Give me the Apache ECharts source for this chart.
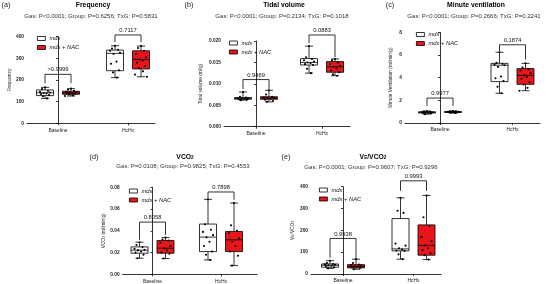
<!DOCTYPE html>
<html>
<head>
<meta charset="utf-8">
<script src="https://cdn.jsdelivr.net/npm/echarts@6/dist/echarts.min.js"></script>
<style>
html, body { margin: 0; padding: 0; background: #fff; }
#chart { width: 546px; height: 284px; }
</style>
</head>
<body>
<div id="chart"></div>
<script>
const categories = ['Baseline', 'HcHx'];

// box stats per category: [min, Q1, median, Q3, max]
const freqMdx = [[115, 128, 141, 154, 166], [211, 243, 323, 338, 358]];
const freqNac = [[126, 134, 140, 148, 160], [215, 251, 295, 335, 357]];
const freqMdxPts = [[166, 158, 150, 145, 142, 140, 138, 135, 130, 125, 115], [358, 345, 340, 335, 326, 320, 285, 275, 245, 235, 211]];
const freqNacPts = [[160, 155, 150, 146, 143, 141, 140, 138, 136, 133, 129, 126], [357, 348, 335, 320, 305, 295, 290, 280, 265, 255, 240, 225, 215]];
const freqBrackets = [[0, 185, 185, 226], [1, 375, 375, 408]];
const freqP = ['>0.9999', '0.7117'];

const tidalMdx = [[0.0062, 0.0064, 0.0066, 0.0068, 0.0081], [0.0125, 0.0144, 0.0150, 0.0159, 0.0188]];
const tidalNac = [[0.0058, 0.0064, 0.0067, 0.0070, 0.0085], [0.0119, 0.0127, 0.0140, 0.0152, 0.0158]];
const tidalMdxPts = [[0.0081, 0.0070, 0.0068, 0.0067, 0.0066, 0.0066, 0.0065, 0.0064, 0.0063, 0.0062], [0.0188, 0.0162, 0.0158, 0.0155, 0.0152, 0.0150, 0.0148, 0.0146, 0.0144, 0.0135, 0.0125]];
const tidalNacPts = [[0.0085, 0.0075, 0.0070, 0.0068, 0.0067, 0.0066, 0.0065, 0.0063, 0.0060, 0.0058], [0.0158, 0.0155, 0.0150, 0.0146, 0.0142, 0.0140, 0.0136, 0.0131, 0.0127, 0.0122, 0.0119]];
const tidalBrackets = [[0, 0.0088, 0.0088, 0.0110], [1, 0.0195, 0.0162, 0.0214]];
const tidalP = ['0.9469', '0.0883'];

const minuteMdx = [[0.78, 0.88, 0.94, 0.99, 1.05], [2.62, 3.65, 5.10, 5.26, 6.24]];
const minuteNac = [[0.88, 0.93, 0.97, 1.01, 1.06], [2.85, 3.41, 4.20, 4.80, 5.26]];
const minuteMdxPts = [[1.05, 1.00, 0.98, 0.96, 0.94, 0.93, 0.91, 0.89, 0.85, 0.78], [6.24, 5.30, 5.22, 5.15, 5.10, 4.95, 4.10, 3.95, 3.70, 3.20, 2.62]];
const minuteNacPts = [[1.06, 1.03, 1.01, 0.99, 0.98, 0.97, 0.96, 0.95, 0.93, 0.91, 0.88], [5.26, 4.90, 4.75, 4.60, 4.40, 4.20, 4.05, 3.90, 3.60, 3.40, 3.10, 2.85]];
const minuteBrackets = [[0, 1.5, 1.5, 2.2], [1, 6.35, 5.6, 6.9]];
const minuteP = ['0.9977', '0.1874'];

const vco2Mdx = [[0.0148, 0.0194, 0.0222, 0.0252, 0.0295], [0.0132, 0.0209, 0.0342, 0.0462, 0.0689]];
const vco2Nac = [[0.0145, 0.0194, 0.0240, 0.0311, 0.0338], [0.0080, 0.0209, 0.0317, 0.0394, 0.0655]];
const vco2MdxPts = [[0.0295, 0.0270, 0.0250, 0.0235, 0.0225, 0.0220, 0.0210, 0.0200, 0.0180, 0.0148], [0.0689, 0.0460, 0.0410, 0.0390, 0.0360, 0.0340, 0.0300, 0.0260, 0.0210, 0.0180, 0.0132]];
const vco2NacPts = [[0.0338, 0.0320, 0.0310, 0.0290, 0.0260, 0.0240, 0.0220, 0.0200, 0.0190, 0.0145], [0.0655, 0.0450, 0.0400, 0.0380, 0.0330, 0.0300, 0.0260, 0.0210, 0.0170, 0.0080]];
const vco2Brackets = [[0, 0.0317, 0.0363, 0.0480], [1, 0.0700, 0.0686, 0.0757]];
const vco2P = ['0.8058', '0.7898'];

const veMdx = [[26, 31, 40, 46, 61], [68, 106, 115, 254, 349]];
const veNac = [[22, 28, 35, 43, 68], [66, 86, 131, 225, 360]];
const veMdxPts = [[61, 50, 46, 44, 42, 40, 38, 35, 31, 26], [349, 290, 280, 140, 130, 118, 112, 108, 106, 90, 68]];
const veNacPts = [[68, 50, 43, 40, 37, 35, 33, 30, 27, 22], [360, 260, 220, 170, 150, 131, 118, 110, 95, 86, 66]];
const veBrackets = [[0, 74, 74, 163], [1, 381, 381, 427]];
const veP = ['0.9938', '0.9993'];

const FONT = 'Arial, "Liberation Sans", Helvetica, sans-serif';
const RED = '#e8161b';
const JITTER = [0, -3, 3, -5, 5, -1.5, 1.5, -4, 4, -2, 2, -6, 6];

const panels = [
  { tag: '(a)', title: 'Frequency', stats: 'Gas: P<0.0001; Group: P=0.6256; TxG: P=0.5831',
    yName: 'Frequency', yMax: 400, yStep: 100, digits: 0,
    mdx: freqMdx, nac: freqNac, mdxPts: freqMdxPts, nacPts: freqNacPts, brackets: freqBrackets, pLabels: freqP,
    left: 27, right: 155, top: 36.7, bottom: 123.3, c0: 58, c1: 128, nameGap: 15,
    tagX: 6, titleX: 93, titleY: 5, subY: 16, legX: 37, legY: 35.5 },
  { tag: '(b)', title: 'Tidal volume', stats: 'Gas: P<0.0001; Group: P=0.2134; TxG: P=0.1018',
    yName: 'Tidal volume (ml/g)', yMax: 0.02, yStep: 0.005, digits: 3,
    mdx: tidalMdx, nac: tidalNac, mdxPts: tidalMdxPts, nacPts: tidalNacPts, brackets: tidalBrackets, pLabels: tidalP,
    left: 224, right: 350, top: 41, bottom: 126.7, c0: 256, c1: 322, nameGap: 21,
    tagX: 189, titleX: 284, titleY: 5, subY: 16, legX: 229, legY: 40 },
  { tag: '(c)', title: 'Minute ventilation', stats: 'Gas: P<0.0001; Group: P=0.2666; TxG: P=0.2241',
    yName: 'Minute Ventilation (ml/min/g)', yMax: 8, yStep: 2, digits: 0,
    mdx: minuteMdx, nac: minuteNac, mdxPts: minuteMdxPts, nacPts: minuteNacPts, brackets: minuteBrackets, pLabels: minuteP,
    left: 405, right: 540, top: 32.3, bottom: 123, c0: 440, c1: 512.5, nameGap: 12,
    tagX: 390, titleX: 476, titleY: 5, subY: 16, legX: 416, legY: 31.5 },
  { tag: '(d)', title: '{b|VCO}{s|2}', stats: 'Gas: P=0.0108; Group: P=0.9825; TxG: P=0.4553',
    yName: '{n|VCO}{ns|2}{n| (ml/min/g)}', yMax: 0.08, yStep: 0.02, digits: 2,
    mdx: vco2Mdx, nac: vco2Nac, mdxPts: vco2MdxPts, nacPts: vco2NacPts, brackets: vco2Brackets, pLabels: vco2P,
    left: 122.7, right: 257, top: 187.3, bottom: 274.3, c0: 152.5, c1: 221, nameGap: 17,
    tagX: 94, titleX: 185, titleY: 157, subY: 166, legX: 129, legY: 188 },
  { tag: '(e)', title: '{b|V}{s|E}{b|/VCO}{s|2}', stats: 'Gas: P<0.0001; Group: P=0.9607; TxG: P=0.9296',
    yName: '{n|V}{ns|E}{n|/VCO}{ns|2}', yMax: 400, yStep: 100, digits: 0,
    mdx: veMdx, nac: veNac, mdxPts: veMdxPts, nacPts: veNacPts, brackets: veBrackets, pLabels: veP,
    left: 311, right: 441, top: 186.7, bottom: 274, c0: 343, c1: 413.5, nameGap: 16,
    tagX: 286, titleX: 373, titleY: 157, subY: 167, legX: 319, legY: 187 }
];

const richTitle = {
  b: { fontFamily: FONT, fontSize: 6.8, fontWeight: 'bold', fill: '#000', color: '#000' },
  s: { fontFamily: FONT, fontSize: 4.6, fontWeight: 'bold', fill: '#000', color: '#000', verticalAlign: 'bottom', lineHeight: 6 }
};
const richName = {
  n: { fontFamily: FONT, fontSize: 4.8, color: '#222' },
  ns: { fontFamily: FONT, fontSize: 3.5, color: '#222', verticalAlign: 'bottom', lineHeight: 4 }
};

function line(x1, y1, x2, y2) {
  return { type: 'line', shape: { x1, y1, x2, y2 }, style: { stroke: '#000', lineWidth: 0.8 } };
}

function boxRenderer(side, fill) {
  return function (params, api) {
    const ci = api.value(0);
    const cx = api.coord([ci, 0])[0] + side * 13;
    const y = k => api.coord([ci, api.value(k)])[1];
    const yMin = y(1), yQ1 = y(2), yMed = y(3), yQ3 = y(4), yMax = y(5);
    const hw = 8.5, cw = 4;
    return {
      type: 'group',
      children: [
        line(cx, yMax, cx, yQ3), line(cx, yQ1, cx, yMin),
        line(cx - cw, yMax, cx + cw, yMax), line(cx - cw, yMin, cx + cw, yMin),
        { type: 'rect', shape: { x: cx - hw, y: yQ3, width: hw * 2, height: Math.max(yQ1 - yQ3, 0.5) },
          style: { fill, stroke: '#000', lineWidth: 0.8 } },
        line(cx - hw, yMed, cx + hw, yMed)
      ]
    };
  };
}

function pointRenderer(params, api) {
  const ci = api.value(0);
  const side = api.value(3);
  const p = api.coord([ci, api.value(1)]);
  const cx = p[0] + side * 13 + JITTER[api.value(2) % JITTER.length];
  return { type: 'circle', shape: { cx, cy: p[1], r: 1.05 }, style: { fill: '#000' } };
}

function bracketRenderer(labels) {
  return function (params, api) {
    const ci = api.value(0);
    const cx = api.coord([ci, 0])[0];
    const xl = cx - 13, xr = cx + 13;
    const yl = api.coord([ci, api.value(1)])[1];
    const yr = api.coord([ci, api.value(2)])[1];
    const yt = api.coord([ci, api.value(3)])[1];
    return {
      type: 'group',
      children: [
        { type: 'polyline', shape: { points: [[xl, yl], [xl, yt], [xr, yt], [xr, yr]] },
          style: { stroke: '#000', lineWidth: 0.8, fill: null } },
        { type: 'text', x: cx, y: yt - 1.5,
          style: { text: labels[params.dataIndex], fontFamily: FONT, fontSize: 5.8, fill: '#111', align: 'center', verticalAlign: 'bottom' } }
      ]
    };
  };
}

const grid = [], xAxis = [], yAxis = [], series = [], legend = [], graphic = [];

panels.forEach((p, i) => {
  const unit = p.c1 - p.c0;
  grid.push({ left: p.left, top: p.top, width: p.right - p.left, height: p.bottom - p.top });
  xAxis.push({
    gridIndex: i, type: 'value',
    min: -(p.c0 - p.left) / unit, max: (p.right - p.c0) / unit,
    splitLine: { show: false },
    axisLine: { lineStyle: { color: '#000', width: 0.8 } },
    axisTick: { customValues: [0, 1], length: 2, lineStyle: { color: '#000', width: 0.8 } },
    axisLabel: { customValues: [0, 1], formatter: v => categories[Math.round(v)], margin: 4.5,
      fontFamily: FONT, fontSize: 5, color: '#222' }
  });
  yAxis.push({
    gridIndex: i, type: 'value', min: 0, max: p.yMax, interval: p.yStep,
    name: p.yName, nameLocation: 'middle', nameGap: p.nameGap,
    nameTextStyle: { fontFamily: FONT, fontSize: 4.8, color: '#222', rich: richName },
    splitLine: { show: false },
    axisLine: { show: true, lineStyle: { color: '#000', width: 0.8 } },
    axisTick: { show: true, length: 2, lineStyle: { color: '#000', width: 0.8 } },
    axisLabel: { formatter: v => v.toFixed(p.digits), margin: 3,
      fontFamily: FONT, fontSize: 4.8, fontWeight: 'bold', color: '#222' }
  });

  const mdxPts = [], nacPts = [];
  p.mdxPts.forEach((arr, ci) => arr.forEach((v, k) => mdxPts.push([ci, v, k, -1])));
  p.nacPts.forEach((arr, ci) => arr.forEach((v, k) => nacPts.push([ci, v, k, 1])));

  series.push(
    { type: 'custom', name: 'mdx', xAxisIndex: i, yAxisIndex: i, clip: false, z: 2,
      itemStyle: { color: '#fff', borderColor: '#000', borderWidth: 0.8 },
      data: p.mdx.map((s, ci) => [ci, ...s]), renderItem: boxRenderer(-1, '#fff') },
    { type: 'custom', name: 'mdx + NAC', xAxisIndex: i, yAxisIndex: i, clip: false, z: 2,
      itemStyle: { color: RED, borderColor: '#000', borderWidth: 0.8 },
      data: p.nac.map((s, ci) => [ci, ...s]), renderItem: boxRenderer(1, RED) },
    { type: 'custom', xAxisIndex: i, yAxisIndex: i, clip: false, z: 3,
      data: mdxPts.concat(nacPts), renderItem: pointRenderer },
    { type: 'custom', xAxisIndex: i, yAxisIndex: i, clip: false, z: 3,
      data: p.brackets, renderItem: bracketRenderer(p.pLabels) }
  );

  legend.push({
    left: p.legX, top: p.legY, orient: 'vertical', itemWidth: 8, itemHeight: 4, itemGap: 3,
    selectedMode: false, padding: 0,
    textStyle: { fontFamily: FONT, fontSize: 5.8, fontStyle: 'italic', color: '#111', padding: [0, 0, 0, -1] },
    data: [
      { name: 'mdx', icon: 'rect', itemStyle: { color: '#fff', borderColor: '#000', borderWidth: 0.8 } },
      { name: 'mdx + NAC', icon: 'rect', itemStyle: { color: RED, borderColor: '#000', borderWidth: 0.8 } }
    ]
  });

  graphic.push(
    { type: 'text', x: p.tagX, y: p.titleY, style: { text: p.tag, fontFamily: FONT, fontSize: 7.2, fill: '#222', align: 'center', verticalAlign: 'middle' } },
    { type: 'text', x: p.titleX, y: p.titleY, style: { text: p.title, fontFamily: FONT, fontSize: 6.8, fontWeight: 'bold', fill: '#000', align: 'center', verticalAlign: 'middle', rich: richTitle } },
    { type: 'text', x: p.titleX - 2, y: p.subY, style: { text: p.stats, fontFamily: FONT, fontSize: 6, fill: '#333', align: 'center', verticalAlign: 'middle' } }
  );
});

const chart = echarts.init(document.getElementById('chart'));
chart.setOption({
  animation: false,
  backgroundColor: '#fff',
  textStyle: { fontFamily: FONT },
  grid, xAxis, yAxis, series, legend, graphic
});
</script>
</body>
</html>
